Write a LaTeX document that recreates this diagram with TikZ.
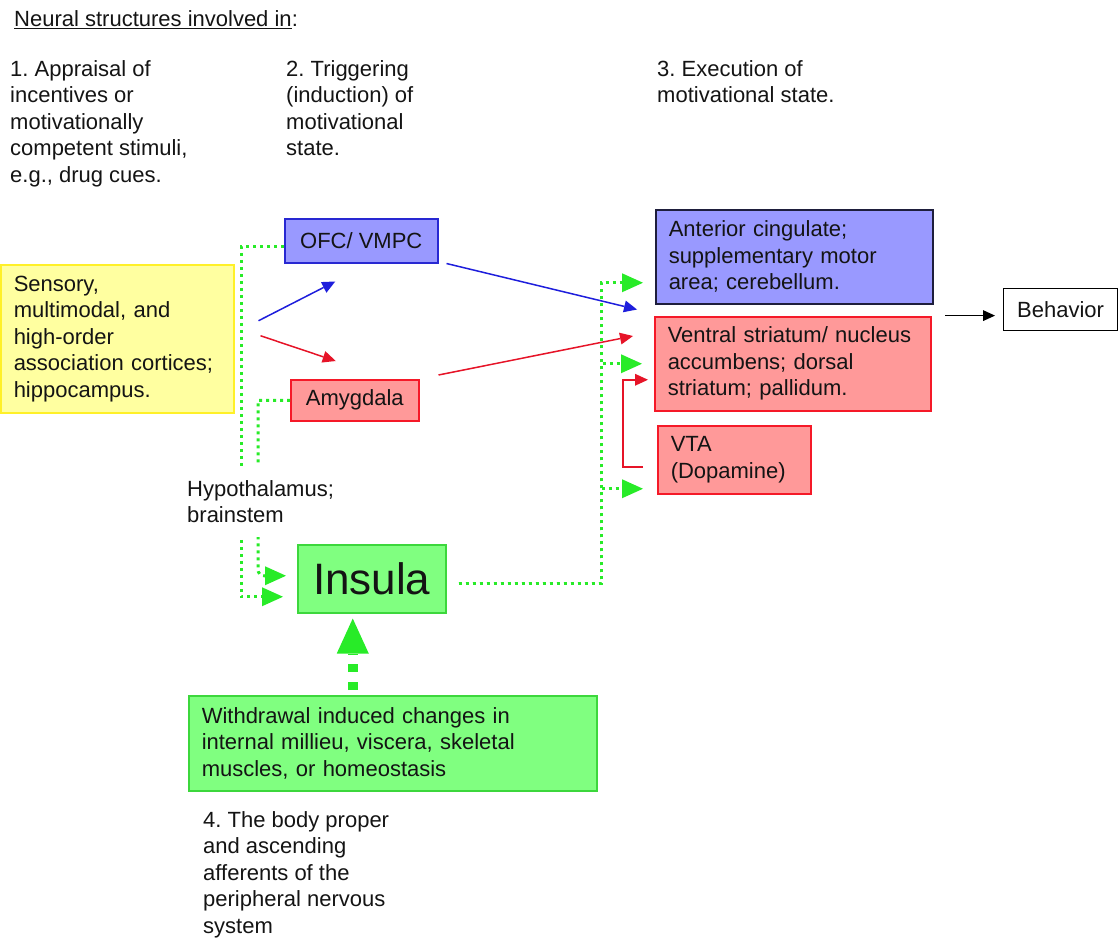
\documentclass[tikz,border=0pt]{standalone}
\usepackage{fontspec}
\setmainfont{Liberation Sans}
\usetikzlibrary{arrows.meta}
\definecolor{gline}{RGB}{40,235,40}
\definecolor{gfill}{RGB}{128,255,128}
\definecolor{gborder}{RGB}{60,215,60}
\definecolor{bfill}{RGB}{153,153,255}
\definecolor{bborder}{RGB}{40,40,210}
\definecolor{nborder}{RGB}{30,30,60}
\definecolor{rfill}{RGB}{255,153,153}
\definecolor{rborder}{RGB}{245,25,40}
\definecolor{yfill}{RGB}{255,255,160}
\definecolor{yborder}{RGB}{255,240,40}
\definecolor{bluearrow}{RGB}{30,30,220}
\definecolor{redarrow}{RGB}{230,20,40}
\definecolor{txt}{RGB}{20,20,20}
\frenchspacing
\begin{document}
\begin{tikzpicture}[x=1pt,y=-1pt,
  font=\fontsize{22}{26.5}\selectfont, text=txt,
  box/.style={draw, line width=1.5pt, inner ysep=0pt, inner xsep=13pt, align=left, anchor=north west},
  cbox/.style={draw, line width=1.5pt, inner sep=0pt, align=center, anchor=north west},
  lbl/.style={anchor=north west, inner sep=0pt, align=left},
  dotg/.style={gline, line width=3pt, dash pattern=on 3pt off 4pt},
  gtip/.style={-{Triangle[length=21pt,width=19pt,line width=0pt]}},
  thinarrow/.style={line width=1.5pt, -{Triangle[length=13pt,width=12pt,line width=0pt]}}]
\useasboundingbox (0,0) rectangle (1118,940);

% header texts
\node[lbl] (title) at (14,10) {\underline{Neural structures involved in}:};
\node[lbl] (c1) at (10,60) {1. Appraisal of\\incentives or\\motivationally\\competent stimuli,\\e.g., drug cues.};
\node[lbl] (c2) at (286,60) {2. Triggering\\(induction) of\\motivational\\state.};
\node[lbl] (c3) at (657,60) {3. Execution of\\motivational state.};
\node[lbl] (c4) at (203,811) {4. The body proper\\and ascending\\afferents of the\\peripheral nervous\\system};

% boxes
\node[box, fill=yfill, draw=yborder, text width=207pt, minimum height=148pt] (yel) at (0,264)
  {Sensory,\\multimodal, and\\high-order\\association cortices;\\hippocampus.};
\node[cbox, fill=bfill, draw=bborder, minimum width=153pt, minimum height=44pt] (ofc) at (284,218) {OFC/ VMPC};
\node[cbox, fill=rfill, draw=rborder, minimum width=128pt, minimum height=41pt] (amy) at (290,379) {Amygdala};
\node[box, fill=bfill, draw=nborder, text width=251pt, minimum height=94pt] (ant) at (655,209)
  {Anterior cingulate;\\supplementary motor\\area; cerebellum.};
\node[box, fill=rfill, draw=rborder, text width=250pt, minimum height=94pt] (vs) at (654,316)
  {Ventral striatum/ nucleus\\accumbens; dorsal\\striatum; pallidum.};
\node[box, fill=rfill, draw=rborder, text width=127pt, minimum height=68pt] (vta) at (657,425)
  {VTA\\(Dopamine)};
\node[cbox, fill=white, draw=black, line width=1.2pt, minimum width=114pt, minimum height=42pt] (beh) at (1003,288) {Behavior};
\node[cbox, fill=gfill, draw=gborder, minimum width=148pt, minimum height=68pt, font=\fontsize{44}{50}\selectfont] (ins) at (297,544) {Insula};
\node[box, fill=gfill, draw=gborder, text width=382pt, minimum height=95pt] (wd) at (188,695)
  {Withdrawal induced changes in\\internal millieu, viscera, skeletal\\muscles, or homeostasis};

% sensory cortices to OFC / amygdala
\draw[bluearrow, thinarrow] ([xshift=24pt,yshift=18pt]yel.east) -- ([xshift=-26pt,yshift=-18pt]ofc.south);
\draw[redarrow, thinarrow] ([xshift=26pt,yshift=3pt]yel.east) -- ([xshift=-19pt,yshift=18pt]amy.north);

% OFC / amygdala to execution
\draw[bluearrow, thinarrow] ([xshift=8pt]ofc.south east) -- ([xshift=-18pt,yshift=-5pt]ant.south west);
\draw[redarrow, thinarrow] ([xshift=19pt,yshift=4pt]amy.north east) -- ([xshift=-21pt,yshift=-20pt]vs.north west);

% VTA to striatum
\draw[redarrow, thinarrow] ([xshift=-14pt,yshift=-7pt]vta.west) -| ([xshift=-31pt,yshift=-16pt]vs.west) -- ([xshift=-6pt,yshift=-16pt]vs.west);

% to behavior
\draw[black, line width=1.3pt, -{Triangle[length=12pt,width=11pt,line width=0pt]}, shorten >=8pt]
  ([xshift=-58pt,yshift=-6pt]beh.west) -- ([yshift=-6pt]beh.west);

% OFC / amygdala via hypothalamus to insula
\draw[dotg, gtip, shorten >=14pt] ([yshift=-6pt]ofc.west) -| (241,560) |- ([yshift=-18pt]ins.west);
\draw[dotg, gtip, shorten >=11pt] (amy.west) -| (258,560) [rounded corners=6pt] |- ([yshift=3pt]ins.west);
\node[lbl, fill=white, inner xsep=3pt, inner ysep=14pt] (hyp) at (184,466) {Hypothalamus;\\brainstem};

% insula to execution
\draw[dotg, gtip, shorten >=12pt] ([xshift=12pt,yshift=-5pt]ins.east) -| ([xshift=-54pt,yshift=-26pt]ant.west) -- ([yshift=-26pt]ant.west);
\draw[dotg, gtip, shorten >=12pt] ([xshift=12pt,yshift=-5pt]ins.east) -| ([xshift=-53pt]vs.west) -- (vs.west);
\draw[dotg, gtip, shorten >=14pt] ([xshift=12pt,yshift=-5pt]ins.east) -| ([xshift=-56pt,yshift=-29pt]vta.west) -- ([yshift=-29pt]vta.west);

% withdrawal to insula
\draw[gline, line width=10pt, dash pattern=on 8pt off 10pt, -{Triangle[length=35pt,width=32pt,line width=0pt]}, shorten >=5pt]
  ([xshift=-40pt,yshift=5pt]wd.north) -- ([xshift=-19pt]ins.south);
\end{tikzpicture}
\end{document}
